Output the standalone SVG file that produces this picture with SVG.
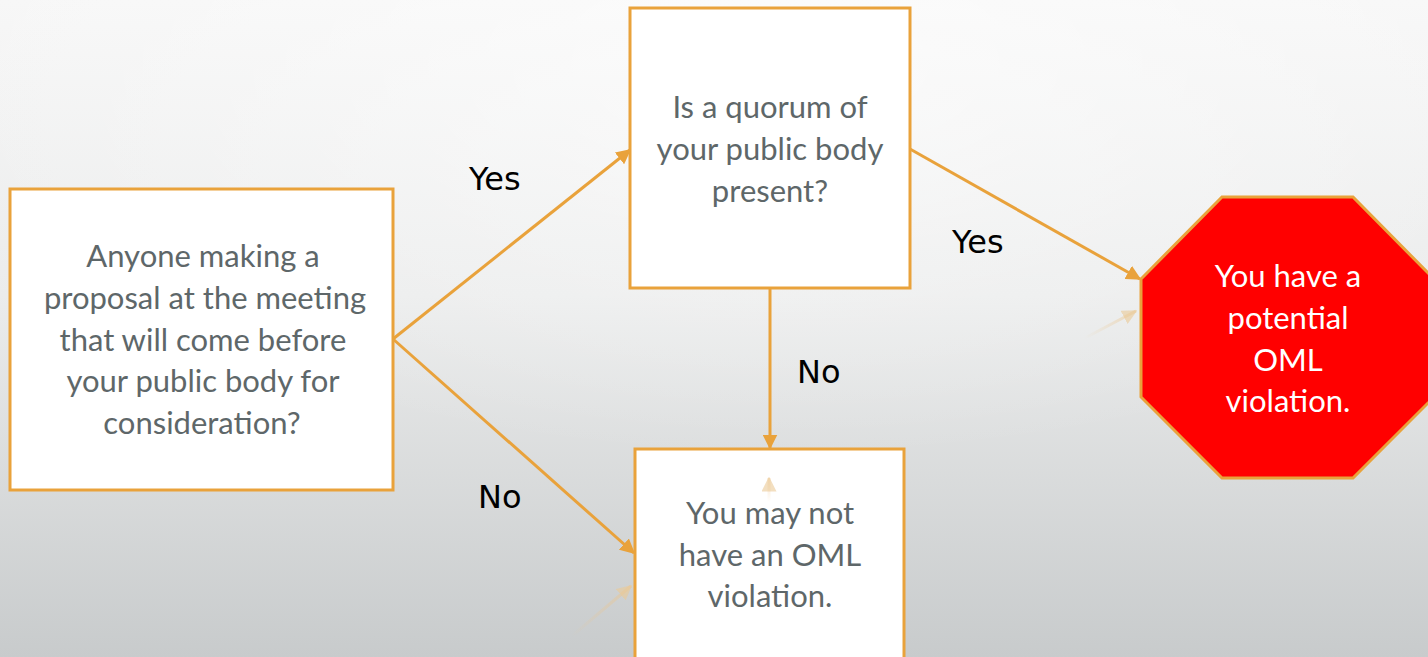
<svg xmlns="http://www.w3.org/2000/svg" width="1428" height="657" viewBox="0 0 1428 657">
  <defs>
    <linearGradient id="bg" x1="0" y1="0" x2="0" y2="1">
      <stop offset="0" stop-color="#F7F7F7"/>
      <stop offset="0.45" stop-color="#EBECEC"/>
      <stop offset="1" stop-color="#C8CBCC"/>
    </linearGradient>
    <radialGradient id="glow" cx="0.55" cy="0.1" r="0.6">
      <stop offset="0" stop-color="#FFFFFF" stop-opacity="0.6"/>
      <stop offset="1" stop-color="#FFFFFF" stop-opacity="0"/>
    </radialGradient>
    <linearGradient id="g1" gradientUnits="userSpaceOnUse" x1="1085" y1="338" x2="1136" y2="311">
      <stop offset="0" stop-color="#EBC996" stop-opacity="0"/>
      <stop offset="1" stop-color="#EBC996" stop-opacity="0.6"/>
    </linearGradient>
    <linearGradient id="g2" gradientUnits="userSpaceOnUse" x1="572" y1="636" x2="631" y2="586">
      <stop offset="0" stop-color="#E9C693" stop-opacity="0"/>
      <stop offset="1" stop-color="#E9C693" stop-opacity="0.6"/>
    </linearGradient>
    <linearGradient id="g3" gradientUnits="userSpaceOnUse" x1="769" y1="502" x2="769" y2="478">
      <stop offset="0" stop-color="#F6D9B3" stop-opacity="0"/>
      <stop offset="1" stop-color="#F6D9B3" stop-opacity="0.7"/>
    </linearGradient>
    <marker id="arr" viewBox="0 0 10 10" refX="9" refY="5" markerWidth="5" markerHeight="5" orient="auto" markerUnits="strokeWidth">
      <path d="M0,0 L10,5 L0,10 Z" fill="#E9A23B"/>
    </marker>
    <marker id="ghostarr" viewBox="0 0 10 10" refX="9" refY="5" markerWidth="5" markerHeight="5" orient="auto" markerUnits="strokeWidth">
      <path d="M0,0 L10,5 L0,10 Z" fill="#EBC996" fill-opacity="0.6"/>
    </marker>
    <style>
      .box { fill: #FFFFFF; stroke: #E9A23B; stroke-width: 3; }
      .stop { fill: #FF0000; stroke: #E9A23B; stroke-width: 3; }
      .conn { stroke: #E9A23B; stroke-width: 3; fill: none; marker-end: url(#arr); }
      .ghost { stroke-width: 3; fill: none; marker-end: url(#ghostarr); }
      .t { font-family: Lato, "Open Sans", "Liberation Sans", sans-serif; font-size: 31px; fill: #5E6769; text-anchor: middle; }
      .tw { font-family: Lato, "Open Sans", "Liberation Sans", sans-serif; font-size: 31px; fill: #FFFFFF; text-anchor: middle; }
      .lbl { font-family: "DejaVu Sans", Verdana, sans-serif; font-size: 32px; fill: #000000; }
    </style>
  </defs>
  <rect x="0" y="0" width="1428" height="657" fill="url(#bg)"/>
  <rect x="0" y="0" width="1428" height="657" fill="url(#glow)"/>

  <g id="connectors">
    <line class="conn" x1="393" y1="339" x2="630" y2="150"/>
    <line class="conn" x1="393" y1="339" x2="634" y2="553"/>
    <line class="conn" x1="770" y1="288" x2="770" y2="448"/>
    <line class="conn" x1="910" y1="149" x2="1140" y2="279"/>
  </g>

  <g id="labels">
    <text class="lbl" x="469" y="190">Yes</text>
    <text class="lbl" x="952" y="253">Yes</text>
    <text class="lbl" x="797" y="383">No</text>
    <text class="lbl" x="478" y="508">No</text>
  </g>

  <g id="node-proposal">
    <rect class="box" x="10" y="189" width="383" height="301"/>
    <text class="t" x="203" y="267">Anyone making a</text>
    <text class="t" x="205" y="309">proposal at the meeting</text>
    <text class="t" x="203" y="351">that will come before</text>
    <text class="t" x="203" y="392">your public body for</text>
    <text class="t" x="202" y="434">consideration?</text>
  </g>

  <g id="node-quorum">
    <rect class="box" x="630" y="8" width="280" height="280"/>
    <text class="t" x="770" y="118">Is a quorum of</text>
    <text class="t" x="770" y="160">your public body</text>
    <text class="t" x="770" y="202">present?</text>
  </g>

  <g id="node-maynot">
    <rect class="box" x="635" y="449" width="269" height="220"/>
    <text class="t" x="770" y="524">You may not</text>
    <text class="t" x="770" y="566">have an OML</text>
    <text class="t" x="770" y="607">violation.</text>
  </g>

  <g id="node-violation">
    <polygon class="stop" points="1222,197 1353,197 1434,279 1434,397 1353,478 1222,478 1141,397 1141,279"/>
    <text class="tw" x="1288" y="287">You have a</text>
    <text class="tw" x="1288" y="329">potential</text>
    <text class="tw" x="1288" y="371">OML</text>
    <text class="tw" x="1288" y="412">violation.</text>
  </g>

  <g id="ghost-connectors">
    <line class="ghost" stroke="url(#g1)" x1="1085" y1="338" x2="1136" y2="311"/>
    <line class="ghost" stroke="url(#g2)" x1="572" y1="636" x2="631" y2="586"/>
    <line class="ghost" stroke="url(#g3)" x1="769" y1="502" x2="769" y2="478"/>
  </g>
</svg>
